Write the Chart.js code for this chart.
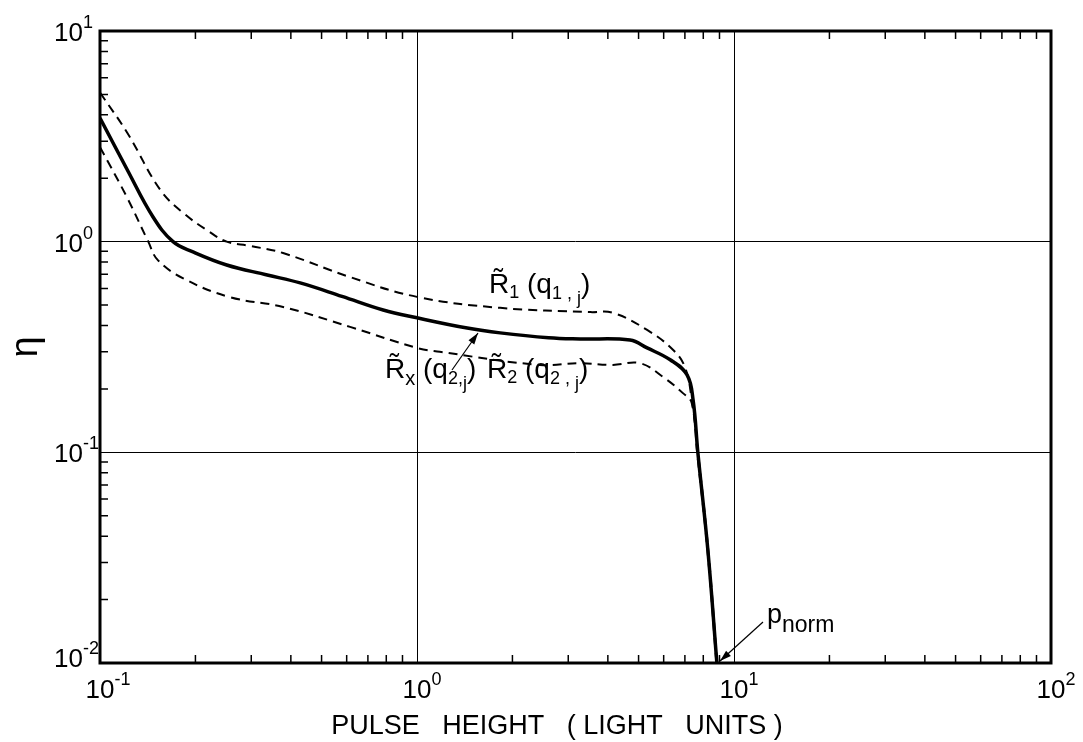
<!DOCTYPE html>
<html>
<head>
<meta charset="utf-8">
<script src="https://cdn.jsdelivr.net/npm/chart.js@4.4.1/dist/chart.umd.min.js"></script>
<style>
  body { margin: 0; background: #fff; }
</style>
</head>
<body>
<canvas id="chart" width="1083" height="742"></canvas>
<script>
// curve values (pulse height, eta)
const rxX = [0.1, 0.122, 0.147, 0.170, 0.1965, 0.251, 0.337, 0.428, 0.58, 0.782, 1.0, 1.44, 1.83, 2.6, 3.27, 4.70, 5.32, 6.29, 7.11, 7.43, 7.69, 8.27, 8.83];
const rxY = [3.86, 2.19, 1.31, 1.0, 0.894, 0.775, 0.695, 0.637, 0.55, 0.474, 0.435, 0.389, 0.369, 0.350, 0.345, 0.341, 0.313, 0.275, 0.233, 0.177, 0.1, 0.0344, 0.01];

const r1X = [0.1, 0.122, 0.155, 0.183, 0.22, 0.251, 0.297, 0.378, 0.615, 1.0, 1.83, 3.52, 4.15, 5.32, 6.43, 7.0, 7.35, 7.7, 8.3, 8.85];
const r1Y = [5.1, 3.28, 1.76, 1.37, 1.12, 1.0, 0.955, 0.883, 0.679, 0.547, 0.485, 0.463, 0.459, 0.381, 0.306, 0.254, 0.18, 0.1, 0.034, 0.01];

const r2X = [0.1, 0.122, 0.142, 0.152, 0.183, 0.255, 0.378, 0.615, 1.0, 1.18, 2.44, 3.27, 4.15, 5.05, 5.97, 6.90, 7.36, 7.65, 8.25, 8.8];
const r2Y = [2.81, 1.61, 1.0, 0.82, 0.67, 0.547, 0.490, 0.394, 0.313, 0.30, 0.260, 0.265, 0.260, 0.265, 0.228, 0.191, 0.171, 0.1, 0.034, 0.01];

const xMajor = [0.1, 1, 10, 100];
const yMajor = [0.01, 0.1, 1, 10];
const xTitle = 'PULSE   HEIGHT   ( LIGHT   UNITS )';
const yTitle = 'η';

const FONT = '"Liberation Sans", Arial, sans-serif';

const toPoints = function (xs, ys) {
    return xs.map((x, i) => ({ x: x, y: ys[i] }));
};

// draw text pieces one after the other: [text, dy, size]
const richText = function (ctx, x, y, parts) {
    for (const [t, dy, size] of parts) {
        ctx.font = size + 'px ' + FONT;
        ctx.fillText(t, x, y + dy);
        x += ctx.measureText(t).width;
    }
};

const arrow = function (ctx, x1, y1, x2, y2) {
    const a = Math.atan2(y2 - y1, x2 - x1);
    ctx.beginPath();
    ctx.moveTo(x1, y1);
    ctx.lineTo(x2, y2);
    ctx.stroke();
    ctx.beginPath();
    ctx.moveTo(x2, y2);
    ctx.lineTo(x2 - 12 * Math.cos(a - 0.3), y2 - 12 * Math.sin(a - 0.3));
    ctx.lineTo(x2 - 12 * Math.cos(a + 0.3), y2 - 12 * Math.sin(a + 0.3));
    ctx.closePath();
    ctx.fill();
};

const decor = {
    id: 'decor',
    afterDraw(chart) {
        const ctx = chart.ctx;
        const a = chart.chartArea;
        const xs = chart.scales.x, ys = chart.scales.y;
        ctx.save();
        ctx.strokeStyle = '#000';
        ctx.fillStyle = '#000';

        // minor ticks, pointing inwards
        ctx.lineWidth = 1.5;
        ctx.beginPath();
        for (let d = -1; d < 2; d++) {
            for (let k = 2; k < 10; k++) {
                const px = xs.getPixelForValue(k * Math.pow(10, d));
                ctx.moveTo(px, a.bottom); ctx.lineTo(px, a.bottom - 8);
                ctx.moveTo(px, a.top); ctx.lineTo(px, a.top + 8);
            }
        }
        for (let d = -2; d < 1; d++) {
            for (let k = 2; k < 10; k++) {
                const py = ys.getPixelForValue(k * Math.pow(10, d));
                ctx.moveTo(a.left, py); ctx.lineTo(a.left + 8, py);
            }
        }
        ctx.stroke();

        // frame
        ctx.lineWidth = 3;
        ctx.strokeRect(a.left, a.top, a.right - a.left, a.bottom - a.top);

        // decade labels 10^n
        ctx.textBaseline = 'alphabetic';
        ctx.textAlign = 'left';
        xs.ticks.forEach(t => {
            const px = xs.getPixelForValue(t.value);
            const e = Math.round(Math.log10(t.value));
            ctx.font = '26px ' + FONT;
            const w = ctx.measureText('10').width;
            richText(ctx, px - w / 2, a.bottom + 35, [['10', 0, 26], [e < 0 ? '-' + (-e) : '' + e, -13, 18]]);
        });
        ys.ticks.forEach(t => {
            const py = ys.getPixelForValue(t.value);
            const e = Math.round(Math.log10(t.value));
            ctx.font = '26px ' + FONT;
            const w = ctx.measureText('10').width;
            const dy = t.value === 0.01 ? 4 : 10;
            richText(ctx, 83 - w, py + dy, [['10', 0, 26], [e < 0 ? '-' + (-e) : '' + e, -13, 18]]);
        });

        // axis title
        ctx.textAlign = 'center';
        ctx.font = '27px ' + FONT;
        ctx.fillText(xTitle, 557, 734);
        ctx.textAlign = 'left';

        // curve labels
        richText(ctx, 489, 293, [['R\u0303', 0, 28], ['1', 5, 18], [' (', 0, 28], ['q', 0, 28], ['1', 6, 18], [' , ', 6, 18], ['j', 11, 18], [')', 0, 28]]);
        richText(ctx, 385, 378, [['R\u0303', 0, 28], ['x', 7, 20], [' (', 0, 28], ['q', 0, 28], ['2', 6, 18], [',', 6, 18], ['j', 11, 18], [')', 0, 28]]);
        richText(ctx, 487, 378, [['R\u0303', 0, 28], ['2', 5, 18], [' (', 0, 28], ['q', 0, 28], ['2', 6, 18], [' , ', 6, 18], ['j', 11, 18], [')', 0, 28]]);
        richText(ctx, 767, 623, [['p', 0, 27], ['norm', 9, 23]]);

        ctx.lineWidth = 1.2;
        arrow(ctx, 452, 370, 478, 333);
        arrow(ctx, 763, 622, 720, 661);

        ctx.restore();
    }
};

const majorGrid = function (list) {
    return function (c) {
        const v = c.tick ? c.tick.value : null;
        return (v === list[0] || v === list[list.length - 1]) ? 'rgba(0,0,0,0)' : '#000';
    };
};

const chartElement = document.getElementById('chart');
const etaChart = new Chart(chartElement, {
    type: 'line',
    data: {
        datasets: [
            {
                label: 'R1(q1,j)',
                data: toPoints(r1X, r1Y),
                borderColor: '#000',
                borderWidth: 2,
                borderDash: [9, 6]
            },
            {
                label: 'Rx(q2,j)',
                data: toPoints(rxX, rxY),
                borderColor: '#000',
                borderWidth: 3.5
            },
            {
                label: 'R2(q2,j)',
                data: toPoints(r2X, r2Y),
                borderColor: '#000',
                borderWidth: 2,
                borderDash: [9, 6]
            }
        ]
    },
    options: {
        responsive: false,
        animation: false,
        parsing: false,
        layout: { padding: { top: 31, right: 32, left: 0, bottom: 0 } },
        elements: {
            point: { radius: 0 },
            line: { tension: 0.4, fill: false }
        },
        plugins: {
            legend: { display: false },
            tooltip: { enabled: false }
        },
        scales: {
            x: {
                type: 'logarithmic',
                min: 0.1,
                max: 100,
                afterBuildTicks: s => { s.ticks = xMajor.map(v => ({ value: v })); },
                afterFit: s => { s.height = 79; },
                ticks: { display: false },
                border: { display: false },
                grid: { color: majorGrid(xMajor), lineWidth: 1, drawTicks: false }
            },
            y: {
                type: 'logarithmic',
                min: 0.01,
                max: 10,
                afterBuildTicks: s => { s.ticks = yMajor.map(v => ({ value: v })); },
                afterFit: s => { s.width = 100; },
                ticks: { display: false },
                border: { display: false },
                grid: { color: majorGrid(yMajor), lineWidth: 1, drawTicks: false },
                title: {
                    display: true,
                    text: yTitle,
                    color: '#000',
                    font: { family: FONT, size: 38 },
                    padding: { top: 4, bottom: 0 }
                }
            }
        }
    },
    plugins: [decor]
});
</script>
</body>
</html>
